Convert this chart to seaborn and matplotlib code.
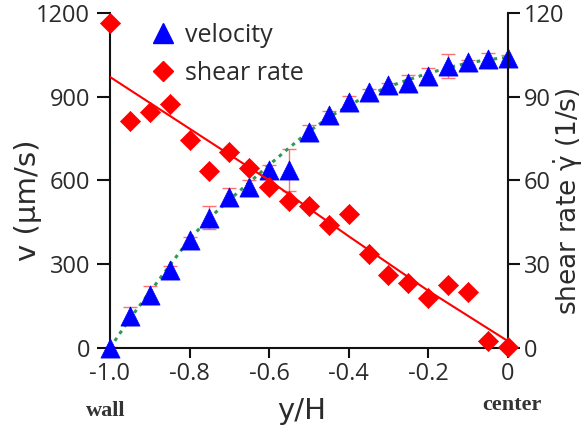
import numpy as np
import pandas as pd
import matplotlib
matplotlib.use("Agg")
import matplotlib.pyplot as plt
import seaborn as sns
from matplotlib.lines import Line2D

# ---- data ----
pos = [-1.0, -0.95, -0.9, -0.85, -0.8, -0.75, -0.7, -0.65, -0.6, -0.55, -0.5,
       -0.45, -0.4, -0.35, -0.3, -0.25, -0.2, -0.15, -0.1, -0.05, 0.0]
velocity = [0, 113, 189, 279, 385, 467, 541, 575, 636, 638, 772,
            834, 879, 917, 940, 948, 973, 1008, 1022, 1035, 1037]
velocity_err = [5, 32, 32, 14, 12, 40, 30, 25, 20, 75, 25,
                15, 22, 10, 10, 30, 28, 43, 10, 19, 10]
shear = [116.3, 81.4, 84.3, 87.4, 74.5, 63.5, 70.0, 64.4, 57.5, 52.5, 50.8,
         44.0, 47.8, 33.7, 26.0, 23.2, 18.0, 22.6, 20.2, 2.5, 0.3]
fit_v = [0, 105, 200, 295, 390, 465, 530, 592, 655, 716, 775,
         825, 868, 905, 935, 960, 983, 1003, 1020, 1032, 1040]
fit_s_pos = [-1.0, -0.8, -0.6, -0.4, -0.2, 0.0]
fit_s = [97, 78.5, 60, 40, 20.5, 2.5]

xticks = [-1.0, -0.8, -0.6, -0.4, -0.2, 0.0]
xticklabels = ["-1.0", "-0.8", "-0.6", "-0.4", "-0.2", "0"]
vticks = [0, 300, 600, 900, 1200]
sticks = [0, 30, 60, 90, 120]
legend_labels = ["velocity", "shear rate"]

df = pd.DataFrame({"pos": pos, "velocity": velocity, "shear": shear, "fit_v": fit_v})
df_s = pd.DataFrame({"pos": fit_s_pos, "fit_s": fit_s})

sns.set_style("ticks")
plt.rcParams["font.family"] = ["Open Sans", "DejaVu Sans"]
plt.rcParams["mathtext.fontset"] = "dejavusans"

TXT = "#2b2b2b"
fig = plt.figure(figsize=(5.85, 4.33), dpi=100)
ax = fig.add_axes([0.188, 0.1963, 0.680, 0.7744])
ax2 = ax.twinx()

# velocity
ax.errorbar(pos, velocity, yerr=velocity_err, fmt="none", ecolor="#ff7070",
            elinewidth=1.0, capsize=5, capthick=1.0, zorder=1)
sns.lineplot(data=df, x="pos", y="fit_v", ax=ax, color="#2e9a55", lw=2.2,
             linestyle=(0, (1.2, 1.6)), zorder=2)
sns.scatterplot(data=df, x="pos", y="velocity", ax=ax, marker="^", s=190,
                color="#0000ff", edgecolor="#0000ff", linewidth=0.5, zorder=3,
                clip_on=False)

# shear rate
sns.lineplot(data=df_s, x="pos", y="fit_s", ax=ax2, color="#ff0000", lw=1.5, zorder=2)
sns.scatterplot(data=df, x="pos", y="shear", ax=ax2, marker="D", s=105,
                color="#ff0000", edgecolor="#ff0000", linewidth=0.5, zorder=3,
                clip_on=False)

ax.set_xlim(-1.0, 0.0)
ax.set_ylim(0, 1200)
ax2.set_ylim(0, 120)
ax.set_xticks(xticks)
ax.set_xticklabels(xticklabels)
ax.set_yticks(vticks)
ax2.set_yticks(sticks)

for a in (ax, ax2):
    a.spines["top"].set_visible(False)
    for s in a.spines.values():
        s.set_linewidth(1.5)
        s.set_color("#111111")
ax.spines["right"].set_visible(False)
ax2.spines["left"].set_visible(False)
ax2.spines["bottom"].set_visible(False)

ax.tick_params(axis="x", length=7, width=1.5, labelsize=17, pad=3, colors="#111111", labelcolor=TXT)
ax.tick_params(axis="y", length=9.4, width=1.5, labelsize=17, pad=5, colors="#111111", labelcolor=TXT)
ax2.tick_params(axis="y", length=8.6, width=1.5, labelsize=17, pad=3, colors="#111111", labelcolor=TXT)

lab_font = dict(fontsize=21, family="DejaVu Sans", color=TXT)
ax.set_xlabel("y/H", **lab_font)
ax.xaxis.set_label_coords(0.482, -0.145)
ax.set_ylabel("v (\u03bcm/s)", **lab_font)
ax.yaxis.set_label_coords(-0.171, 0.441)
ax2.set_ylabel(r"shear rate $\dot{\mathrm{\gamma}}$ (1/s)", fontsize=19,
               family="DejaVu Sans", color=TXT)
ax2.yaxis.set_label_coords(1.111, 0.437)

ax.text(-1.010, -0.203, "wall", transform=ax.get_xaxis_transform(), ha="center",
        va="baseline", fontsize=16, weight="bold", family="Liberation Serif", color="#333333")
ax.text(0.010, -0.185, "center", transform=ax.get_xaxis_transform(), ha="center",
        va="baseline", fontsize=16, weight="bold", family="Liberation Serif", color="#333333")

handles = [Line2D([], [], marker="^", color="#0000ff", ls="none", ms=14),
           Line2D([], [], marker="D", color="#ff0000", ls="none", ms=10)]
ax2.legend(handles, legend_labels, loc="upper left",
           bbox_to_anchor=(0.102, 0.969), frameon=False, fontsize=18,
           handlelength=1.0, handletextpad=0.38, labelspacing=0.52,
           borderpad=0, borderaxespad=0, labelcolor=TXT)

fig.savefig("out.png", dpi=100)
